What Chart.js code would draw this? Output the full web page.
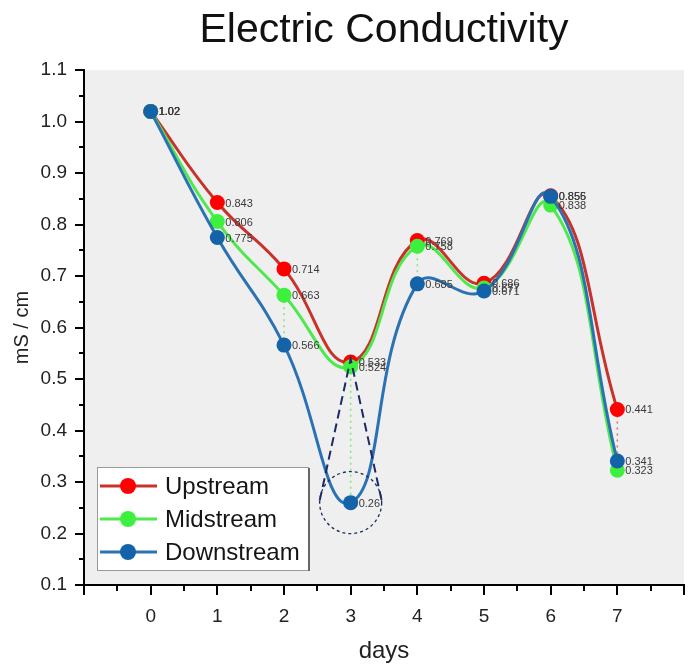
<!DOCTYPE html>
<html><head><meta charset="utf-8">
<script src="https://cdn.jsdelivr.net/npm/chart.js@4/dist/chart.umd.min.js"></script>
<style>html,body{margin:0;padding:0;background:#fff}#wrap{width:693px;height:670px}</style>
</head><body><div id="wrap"><canvas id="c" width="693" height="670"></canvas></div>
<script>
// ---- data ----
const days = [0, 1, 2, 3, 4, 5, 6, 7];
const upstream   = [1.02, 0.843, 0.714, 0.533, 0.769, 0.686, 0.856, 0.441];
const midstream  = [1.02, 0.806, 0.663, 0.524, 0.758, 0.677, 0.838, 0.323];
const downstream = [1.02, 0.775, 0.566, 0.26,  0.685, 0.671, 0.855, 0.341];
const seriesNames = ['Upstream', 'Midstream', 'Downstream'];
const dropDays = [2, 3, 4, 7];          // days with dotted drop lines
const dropTopSeries = [1, 1, 1, 0];     // series index at top of each drop line
const dropBottomSeries = [2, 2, 2, 2];  // series index at bottom
const highlightDay = 3;                 // magnified minimum
const yMin = 0.1, yMax = 1.1, yStep = 0.1;
const xMin = -1, xMax = 8;

const FONT = "'Liberation Sans', Arial, sans-serif";
const lineColors = ['#c8322a', '#4fe84f', '#2a72b3'];
const markColors = ['#ff0000', '#3ef03e', '#1463a8'];
const allSeries = [upstream, midstream, downstream];

const datasets = allSeries.map((vals, i) => ({
  label: seriesNames[i],
  data: days.map((d, k) => ({x: d, y: vals[k]})),
  borderColor: lineColors[i],
  backgroundColor: markColors[i],
  pointBackgroundColor: markColors[i],
  pointBorderColor: markColors[i],
  pointRadius: 7.5,
  pointBorderWidth: 0,
  borderWidth: 3,
  tension: 0.45,
  order: 2 - i
}));

const decor = {
  id: 'decor',
  beforeDraw(chart) {
    const {ctx, chartArea: a} = chart;
    ctx.save();
    ctx.fillStyle = '#fff';
    ctx.fillRect(0, 0, chart.width, chart.height);
    ctx.fillStyle = '#efefef';
    ctx.fillRect(a.left, a.top, a.right - a.left, a.bottom - a.top);
    ctx.restore();
  },
  beforeDatasetsDraw(chart) {
    const {ctx} = chart;
    const xs = chart.scales.x, ys = chart.scales.y;
    ctx.save();
    ctx.lineWidth = 1.5;
    ctx.setLineDash([2, 4]);
    dropDays.forEach((d, j) => {
      const k = days.indexOf(d);
      const top = allSeries[dropTopSeries[j]][k];
      const bot = allSeries[dropBottomSeries[j]][k];
      ctx.strokeStyle = dropTopSeries[j] === 0 ? '#d07070' : '#7ee87e';
      ctx.beginPath();
      ctx.moveTo(xs.getPixelForValue(d), ys.getPixelForValue(top));
      ctx.lineTo(xs.getPixelForValue(d), ys.getPixelForValue(bot));
      ctx.stroke();
    });
    ctx.restore();
  },
  afterDatasetsDraw(chart) {
    const {ctx} = chart;
    const xs = chart.scales.x, ys = chart.scales.y;
    ctx.save();
    // data labels
    ctx.font = '11px ' + FONT;
    ctx.fillStyle = '#3a3a3a';
    ctx.textBaseline = 'middle';
    ctx.textAlign = 'left';
    allSeries.forEach(vals => {
      vals.forEach((v, k) => {
        ctx.fillText(String(v), xs.getPixelForValue(days[k]) + 8, ys.getPixelForValue(v) + 1);
      });
    });
    // highlight cone + circle
    const k = days.indexOf(highlightDay);
    const cx = xs.getPixelForValue(highlightDay);
    const cy = ys.getPixelForValue(downstream[k]);
    const ay = ys.getPixelForValue(upstream[k]) - 3;
    const r = 31;
    ctx.strokeStyle = '#1c2b63';
    ctx.lineWidth = 2;
    ctx.setLineDash([9, 5]);
    ctx.beginPath();
    ctx.moveTo(cx - r, cy - 2); ctx.lineTo(cx, ay); ctx.lineTo(cx + r, cy - 2);
    ctx.stroke();
    ctx.lineWidth = 1.3;
    ctx.setLineDash([3, 3]);
    ctx.beginPath();
    ctx.arc(cx, cy, r, 0, Math.PI * 2);
    ctx.stroke();
    ctx.restore();
  },
  afterDraw(chart) {
    const {ctx, chartArea: a} = chart;
    const xs = chart.scales.x, ys = chart.scales.y;
    ctx.save();
    ctx.strokeStyle = '#000';
    ctx.lineWidth = 2;
    // y ticks
    for (let v = yMin; v <= yMax + 1e-9; v += yStep / 2) {
      const major = Math.abs(Math.round(v / yStep) * yStep - v) < 1e-6;
      const y = Math.round(ys.getPixelForValue(v));
      ctx.beginPath();
      ctx.moveTo(a.left, y); ctx.lineTo(a.left - (major ? 9 : 5), y);
      ctx.stroke();
    }
    // x ticks
    for (let v = xMin; v <= xMax + 1e-9; v += 0.5) {
      const major = Math.abs(Math.round(v) - v) < 1e-6;
      const x = Math.round(xs.getPixelForValue(v));
      ctx.beginPath();
      ctx.moveTo(x, a.bottom); ctx.lineTo(x, a.bottom + (major ? 10 : 6));
      ctx.stroke();
    }
    // legend
    const lx = a.left + 13, ly = a.bottom - 118, lw = 211, lh = 103;
    ctx.fillStyle = '#fff';
    ctx.fillRect(lx, ly, lw, lh);
    ctx.lineWidth = 1;
    ctx.strokeStyle = '#9a9a9a';
    ctx.strokeRect(lx + 0.5, ly + 0.5, lw, lh);
    ctx.strokeStyle = '#666';
    ctx.lineWidth = 2;
    ctx.beginPath();
    ctx.moveTo(lx + lw + 1, ly + 1); ctx.lineTo(lx + lw + 1, ly + lh + 1);
    ctx.stroke();
    seriesNames.forEach((name, i) => {
      const yy = ly + 19 + i * 33;
      ctx.strokeStyle = lineColors[i];
      ctx.lineWidth = 3;
      ctx.beginPath();
      ctx.moveTo(lx + 3, yy); ctx.lineTo(lx + 60, yy);
      ctx.stroke();
      ctx.fillStyle = markColors[i];
      ctx.beginPath();
      ctx.arc(lx + 31, yy, 8, 0, Math.PI * 2);
      ctx.fill();
      ctx.fillStyle = '#151515';
      ctx.font = '24px ' + FONT;
      ctx.textBaseline = 'middle';
      ctx.textAlign = 'left';
      ctx.fillText(name, lx + 68, yy + 1);
    });
    ctx.restore();
  }
};

new Chart(document.getElementById('c'), {
  type: 'line',
  data: {datasets},
  options: {
    responsive: false,
    animation: false,
    devicePixelRatio: 1,
    layout: {padding: {right: 9, left: 0, top: 0, bottom: 0}},
    plugins: {
      legend: {display: false},
      tooltip: {enabled: false},
      title: {
        display: true,
        text: 'Electric Conductivity',
        fullSize: false,
        color: '#111',
        font: {family: FONT, size: 41, weight: 'normal'},
        padding: {top: 6, bottom: 15}
      }
    },
    scales: {
      x: {
        type: 'linear',
        min: xMin, max: xMax,
        grid: {display: false, drawTicks: false},
        border: {display: true, color: '#000', width: 2},
        ticks: {
          stepSize: 1,
          padding: 20,
          color: '#222',
          font: {family: FONT, size: 19},
          callback: v => (days.includes(v) ? String(v) : '')
        },
        title: {display: true, text: 'days', color: '#222', font: {family: FONT, size: 24}, padding: {top: 0, bottom: 4}},
        afterFit: s => { s.height = 85; s.paddingRight = 0; s.paddingLeft = 0; }
      },
      y: {
        min: yMin, max: yMax,
        grid: {display: false, drawTicks: false},
        border: {display: true, color: '#000', width: 2},
        ticks: {
          stepSize: yStep,
          padding: 17,
          color: '#222',
          font: {family: FONT, size: 19},
          callback: v => Number(v).toFixed(1)
        },
        title: {display: true, text: 'mS / cm', color: '#222', font: {family: FONT, size: 20}, padding: {top: 10, bottom: 0}},
        afterFit: s => { s.width = 84; }
      }
    }
  },
  plugins: [decor]
});
</script>
</body></html>
